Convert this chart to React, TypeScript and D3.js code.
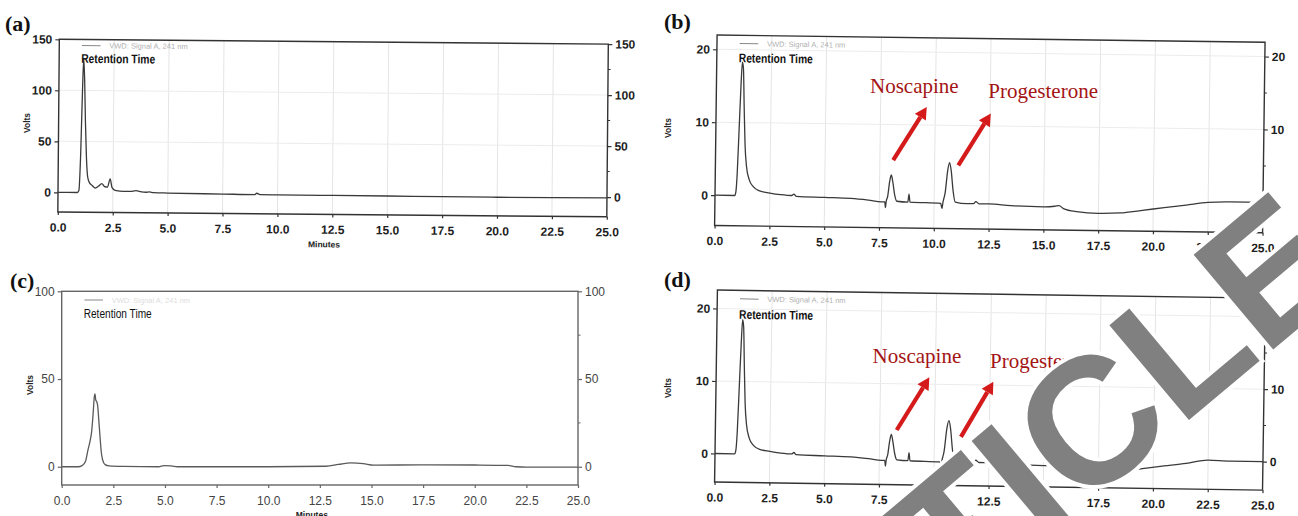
import React, { useEffect, useRef } from 'react';
import * as d3 from 'd3';

const W = 1298;
const H = 516;

// traces: [minutes, volts]
const traceA = [
  [0, 0], [0.88, 0], [0.95, 2], [1.02, 40], [1.08, 105], [1.12, 131], [1.17, 110], [1.22, 70],
  [1.28, 35], [1.34, 16], [1.42, 10], [1.55, 7], [1.7, 4.5], [1.85, 6.5], [1.99, 8.8], [2.12, 6],
  [2.25, 5.5], [2.37, 13.7], [2.46, 5], [2.6, 2.5], [3.0, 1.5], [3.3, 1.5], [3.55, 2.3], [3.8, 1.2],
  [4.0, 0.8], [4.16, 1.2], [4.35, 0.5], [5, 0.2], [7.5, -0.3], [8.95, -0.6], [9.05, 0.8], [9.2, -0.5],
  [10, -0.6], [12.5, -0.7], [15, -0.8], [17.5, -1], [20, -1.1], [22.5, -1], [25, -0.8],
];

const traceB = [
  [0, 0], [0.9, 0], [0.95, 0.5], [1.0, 3], [1.06, 9], [1.12, 15], [1.17, 18.3], [1.22, 17.5],
  [1.28, 12], [1.34, 7], [1.42, 4], [1.55, 2.2], [1.75, 1.2], [2.0, 0.7], [2.5, 0.4], [3.0, 0.2],
  [3.5, 0.1], [3.6, 0.3], [3.7, 0], [5, -0.1], [6.2, -0.2], [7.0, -0.4], [7.6, -0.6], [7.75, -0.6],
  [7.78, -1.4], [7.81, -0.6], [7.88, 0.2], [7.96, 2.2], [8.03, 3.1], [8.1, 2.2], [8.2, 0.3], [8.3, -0.5],
  [8.8, -0.6], [8.85, 0.5], [8.9, -0.6], [10.3, -0.7], [10.36, -1.4], [10.4, -0.6], [10.5, 0.8],
  [10.6, 3.8], [10.68, 4.9], [10.76, 3.8], [10.86, 1.0], [10.96, -0.5], [11.5, -0.7], [11.8, -0.7],
  [11.9, -0.4], [12.05, -0.7], [12.5, -0.7], [13.5, -0.9], [15.0, -1.0], [15.5, -0.9], [15.7, -0.8],
  [15.9, -1.2], [16.5, -1.6], [17.5, -1.8], [18.5, -1.7], [19.5, -1.3], [20.5, -0.9], [21.5, -0.5],
  [22.5, -0.1], [23.5, 0], [25, 0],
];

const traceC = [
  [0, 0], [0.8, 0], [1.0, 0.8], [1.15, 3], [1.27, 9.5], [1.38, 15], [1.45, 20], [1.52, 30],
  [1.58, 40], [1.61, 41.5], [1.65, 38], [1.7, 37], [1.74, 35], [1.8, 26], [1.85, 18], [1.92, 8],
  [1.98, 4], [2.1, 1.2], [2.3, 0.5], [3, 0.2], [4.7, 0], [4.95, 0.6], [5.3, 0.5], [5.6, 0], [10, 0],
  [12.8, 0.3], [13.4, 1.3], [14, 2.2], [14.6, 1.8], [15.1, 0.9], [17.5, 1.1], [20, 1], [21.6, 0.8],
  [22.0, 0], [22.5, -0.2], [25, -0.2],
];

const traceD = [
  [0, 0], [0.9, 0], [0.95, 0.5], [1.0, 3], [1.06, 9], [1.12, 15], [1.17, 18.5], [1.22, 17.6],
  [1.28, 12], [1.34, 7], [1.42, 4], [1.55, 2.2], [1.75, 1.2], [2.0, 0.7], [2.5, 0.4], [3.0, 0.2],
  [3.5, 0.1], [3.6, 0.3], [3.7, 0], [5, -0.1], [6.2, -0.2], [7.0, -0.4], [7.6, -0.6], [7.75, -0.6],
  [7.78, -1.4], [7.81, -0.6], [7.88, 0.2], [7.96, 2.1], [8.03, 3.0], [8.1, 2.1], [8.2, 0.3], [8.3, -0.5],
  [8.8, -0.6], [8.85, 0.5], [8.9, -0.6], [10.25, -0.7], [10.31, -1.4], [10.35, -0.6], [10.45, 0.8],
  [10.56, 3.9], [10.65, 5.0], [10.73, 3.9], [10.83, 1.0], [10.93, -0.5], [11.5, -0.7], [11.8, -0.7],
  [11.9, -0.4], [12.05, -0.7], [12.5, -0.7], [13.5, -0.9], [15.0, -1.0], [15.5, -0.9], [15.7, -0.8],
  [15.9, -1.2], [16.5, -1.6], [17.2, -1.7], [18.5, -1.6], [19.5, -1.2], [20.5, -0.8], [21.5, -0.4],
  [22.5, 0.1], [23.5, 0], [25, 0],
];

const minuteTicks = [0, 2.5, 5, 7.5, 10, 12.5, 15, 17.5, 20, 22.5, 25];
const voltTicksA = [0, 50, 100, 150];
const voltTicksB = [0, 10, 20];
const voltTicksC = [0, 50, 100];
const voltTicksD = [0, 10, 20];
const panelLetters = ['(a)', '(b)', '(c)', '(d)'];
const peakNames = ['Noscapine', 'Progesterone'];
const legendText = 'VWD: Signal A, 241 nm';
const watermark = 'RETRACTED ARTICLE';

const SANS = "'Liberation Sans', Arial, sans-serif";
const SERIF = "'Liberation Serif', 'Times New Roman', serif";

// layout of each scanned panel (pixels), annotations in data units
const panels = [
  {
    trace: traceA, yTicks: voltTicksA, yDomain: [-19.3, 150], left: 58, right: 607, bottom: 212, top: 39.3,
    tilt: 0.5, grid: true, bold: true, ink: '#333', letter: panelLetters[0], letterX: 5, letterY: 31,
    legendY: 45.3, rtY: 58.3, rtW: 74, voltsX: 27, voltsY: 123, minutesY: 245, notes: null,
  },
  {
    trace: traceB, yTicks: voltTicksB, yDomain: [-4.15, 21.96], left: 715, right: 1263, bottom: 225.5, top: 35,
    tilt: 0.75, grid: true, bold: true, ink: '#333', letter: panelLetters[1], letterX: 664, letterY: 29,
    legendY: 43.3, rtY: 57.7, rtW: 74, voltsX: 668, voltsY: 128, minutesY: null,
    notes: {
      text: [[7.07, 14.0], [12.47, 13.3]],
      arrows: [[[8.13, 4.8], [9.66, 12.1]], [[11.1, 4.1], [12.58, 11.2]]],
    },
  },
  {
    trace: traceC, yTicks: voltTicksC, yDomain: [-10.4, 100], left: 61.7, right: 578, bottom: 485, top: 291.3,
    tilt: 0, grid: false, bold: false, ink: '#666', letter: panelLetters[2], letterX: 10, letterY: 288,
    legendY: 300, rtY: 313.3, rtW: 68, voltsX: 30, voltsY: 385, minutesY: 518, notes: null,
  },
  {
    trace: traceD, yTicks: voltTicksD, yDomain: [-3.93, 22.55], left: 715, right: 1263, bottom: 482, top: 290,
    tilt: 0.85, grid: true, bold: true, ink: '#333', letter: panelLetters[3], letterX: 664, letterY: 287,
    legendY: 298.5, rtY: 314, rtW: 74, voltsX: 668, voltsY: 388, minutesY: 518,
    notes: {
      text: [[7.19, 12.5], [12.55, 11.75]],
      arrows: [[[8.29, 3.24], [9.78, 10.5]], [[11.22, 2.3], [12.7, 9.9]]],
    },
  },
];

function drawPanel(svg, p) {
  const x = d3.scaleLinear().domain([0, 25]).range([p.left, p.right]);
  const y = d3.scaleLinear().domain(p.yDomain).range([p.bottom, p.top]);
  const weight = p.bold ? 'bold' : 'normal';

  // the scan is slightly tilted
  const g = svg.append('g').attr('transform', `rotate(${p.tilt},${p.left},${y(0)})`);

  if (p.grid) {
    g.append('g').selectAll('line')
      .data(minuteTicks.slice(1, -1))
      .join('line')
      .attr('x1', d => x(d)).attr('x2', d => x(d))
      .attr('y1', p.top).attr('y2', p.bottom)
      .attr('stroke', '#e4e4e4');
    g.append('g').selectAll('line')
      .data(p.yTicks.filter(d => d > 0 && d < p.yDomain[1] - 1))
      .join('line')
      .attr('x1', p.left).attr('x2', p.right)
      .attr('y1', d => y(d)).attr('y2', d => y(d))
      .attr('stroke', '#ececec');
  }

  g.append('rect')
    .attr('x', p.left).attr('y', p.top)
    .attr('width', p.right - p.left).attr('height', p.bottom - p.top)
    .attr('fill', 'none').attr('stroke', p.ink).attr('stroke-width', 1.4);

  const styleAxis = sel => sel
    .style('font-family', SANS)
    .style('font-size', '12px')
    .style('font-weight', weight)
    .call(a => a.select('.domain').remove())
    .call(a => a.selectAll('.tick line').attr('stroke', p.ink).attr('stroke-width', 1.2))
    .call(a => a.selectAll('.tick text').attr('fill', p.bold ? '#1e1e1e' : '#444'));

  g.append('g')
    .attr('transform', `translate(${p.left},0)`)
    .call(d3.axisLeft(y).tickValues(p.yTicks).tickSize(4).tickPadding(3).tickFormat(d3.format('d')))
    .call(styleAxis);

  g.append('g')
    .attr('transform', `translate(${p.right},0)`)
    .call(d3.axisRight(y).tickValues(p.yTicks).tickSize(4).tickPadding(3).tickFormat(d3.format('d')))
    .call(styleAxis);

  g.append('g')
    .attr('transform', `translate(0,${p.bottom})`)
    .call(d3.axisBottom(x).tickValues(minuteTicks).tickSize(3).tickPadding(8).tickFormat(d3.format('.1f')))
    .call(styleAxis);

  // minor ticks on the right volts axis
  const step = p.yTicks[1] - p.yTicks[0];
  const minor = d3.range(p.yTicks[0] + step / 2, p.yDomain[1], step);
  g.append('g').selectAll('line')
    .data(minor)
    .join('line')
    .attr('x1', p.right).attr('x2', p.right + 2.5)
    .attr('y1', d => y(d)).attr('y2', d => y(d))
    .attr('stroke', p.ink);

  const line = d3.line()
    .x(d => x(d[0]))
    .y(d => y(d[1]))
    .curve(d3.curveMonotoneX);

  g.append('path')
    .datum(p.trace)
    .attr('d', line)
    .attr('fill', 'none')
    .attr('stroke', p.bold ? '#3a3a3a' : '#5a5a5a')
    .attr('stroke-width', 1.3)
    .attr('stroke-linejoin', 'round');

  // legend + header
  g.append('line')
    .attr('x1', p.left + 22.7).attr('x2', p.left + 41.3)
    .attr('y1', p.legendY).attr('y2', p.legendY)
    .attr('stroke', '#888').attr('stroke-width', 1);
  g.append('text')
    .attr('x', p.left + 50).attr('y', p.legendY).attr('dy', '0.35em')
    .style('font-family', SANS).style('font-size', '7.5px')
    .attr('fill', p.bold ? '#b0b0b0' : '#dddddd')
    .text(legendText);
  g.append('text')
    .attr('x', p.left + 22).attr('y', p.rtY).attr('dy', '0.35em')
    .attr('textLength', p.rtW).attr('lengthAdjust', 'spacingAndGlyphs')
    .style('font-family', SANS).style('font-size', '12.5px').style('font-weight', weight)
    .attr('fill', '#111')
    .text('Retention Time');

  svg.append('text')
    .attr('transform', `translate(${p.voltsX},${p.voltsY}) rotate(-90)`)
    .attr('text-anchor', 'middle').attr('dy', '0.35em')
    .style('font-family', SANS).style('font-size', '8.5px').style('font-weight', 'bold')
    .attr('fill', '#222')
    .text('Volts');

  if (p.minutesY) {
    g.append('text')
      .attr('x', (p.left + p.right) / 2 - 8).attr('y', p.minutesY)
      .attr('text-anchor', 'middle')
      .style('font-family', SANS).style('font-size', '8.5px').style('font-weight', 'bold')
      .attr('fill', '#222')
      .text('Minutes');
  }

  svg.append('text')
    .attr('x', p.letterX).attr('y', p.letterY)
    .style('font-family', SERIF).style('font-size', '22px').style('font-weight', 'bold')
    .attr('fill', '#111')
    .text(p.letter);

  // red peak annotations
  if (p.notes) {
    p.notes.text.forEach((d, i) => {
      svg.append('text')
        .attr('x', x(d[0])).attr('y', y(d[1]))
        .style('font-family', SERIF).style('font-size', '21px')
        .attr('fill', '#a41414')
        .text(peakNames[i]);
    });
    p.notes.arrows.forEach(a => {
      const [x1, y1, x2, y2] = [x(a[0][0]), y(a[0][1]), x(a[1][0]), y(a[1][1])];
      const ang = Math.atan2(y2 - y1, x2 - x1);
      const len = 12;
      const bx = x2 - Math.cos(ang) * len;
      const by = y2 - Math.sin(ang) * len;
      svg.append('line')
        .attr('x1', x1).attr('y1', y1).attr('x2', bx).attr('y2', by)
        .attr('stroke', '#d41a1a').attr('stroke-width', 4.2);
      const px = -Math.sin(ang) * 6.5;
      const py = Math.cos(ang) * 6.5;
      svg.append('path')
        .attr('d', `M${x2},${y2}L${bx + px},${by + py}L${bx - px},${by - py}Z`)
        .attr('fill', '#d41a1a');
    });
  }
}

const App = () => {
  const ref = useRef(null);

  useEffect(() => {
    document.body.style.margin = '0';
    const svg = d3.select(ref.current);
    svg.selectAll('*').remove();

    svg.append('rect').attr('width', W).attr('height', H).attr('fill', '#fff');

    panels.forEach(p => drawPanel(svg, p));

    // diagonal retraction stamp across the right half
    svg.append('text')
      .attr('transform', 'translate(1356,280) rotate(-40)')
      .attr('text-anchor', 'end')
      .style('font-family', SANS)
      .style('font-size', '180px')
      .style('font-weight', 'bold')
      .style('paint-order', 'stroke')
      .attr('fill', '#808080')
      .attr('stroke', '#fff')
      .attr('stroke-width', 8)
      .text(watermark);
  }, []);

  return <svg ref={ref} width={W} height={H} style={{ display: 'block' }} />;
};

export default App;
